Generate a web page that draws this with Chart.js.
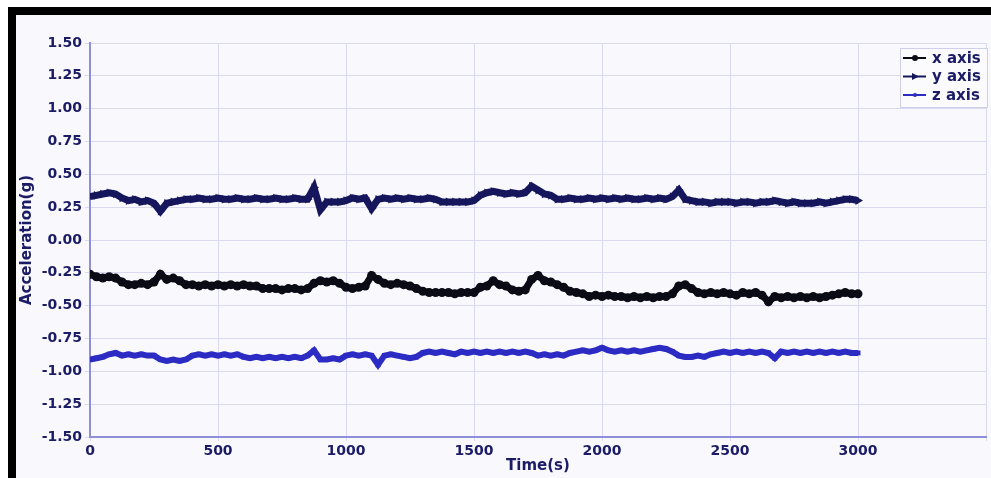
<!DOCTYPE html>
<html>
<head>
<meta charset="utf-8">
<script src="https://cdn.jsdelivr.net/npm/chart.js@4.4.1/dist/chart.umd.min.js"></script>
<style>
    html, body { margin: 0; padding: 0; background: #ffffff; overflow: hidden; }
    #frame {
        position: absolute; left: 8px; top: 7px; width: 1000px; height: 500px;
        border-left: 8px solid #000; border-top: 8px solid #000;
        background: #f8f8fd;
    }
    #chart { position: absolute; left: 0; top: 0; }
</style>
</head>
<body>
<div id="frame"></div>
<canvas id="chart" width="991" height="478"></canvas>
<script>
// Sample times (s)
const times = [
    0, 25, 50, 75, 100, 125, 150, 175, 200, 225, 250, 275, 300, 325, 350, 375, 400, 425, 450, 475,
    500, 525, 550, 575, 600, 625, 650, 675, 700, 725, 750, 775, 800, 825, 850, 875, 900, 925, 950, 975,
    1000, 1025, 1050, 1075, 1100, 1125, 1150, 1175, 1200, 1225, 1250, 1275, 1300, 1325, 1350, 1375, 1400, 1425, 1450, 1475,
    1500, 1525, 1550, 1575, 1600, 1625, 1650, 1675, 1700, 1725, 1750, 1775, 1800, 1825, 1850, 1875, 1900, 1925, 1950, 1975,
    2000, 2025, 2050, 2075, 2100, 2125, 2150, 2175, 2200, 2225, 2250, 2275, 2300, 2325, 2350, 2375, 2400, 2425, 2450, 2475,
    2500, 2525, 2550, 2575, 2600, 2625, 2650, 2675, 2700, 2725, 2750, 2775, 2800, 2825, 2850, 2875, 2900, 2925, 2950, 2975,
    3000
];

// Acceleration (g) per axis
const xAxisValues = [
    -0.26, -0.28, -0.29, -0.28, -0.29, -0.32, -0.34, -0.34, -0.33, -0.34, -0.32, -0.26, -0.30, -0.29, -0.31, -0.34, -0.34, -0.35, -0.34, -0.35,
    -0.34, -0.35, -0.34, -0.35, -0.34, -0.35, -0.35, -0.37, -0.37, -0.37, -0.38, -0.37, -0.37, -0.38, -0.37, -0.33, -0.31, -0.32, -0.31, -0.33,
    -0.36, -0.37, -0.36, -0.35, -0.27, -0.30, -0.33, -0.34, -0.33, -0.34, -0.35, -0.37, -0.39, -0.40, -0.40, -0.40, -0.40, -0.41, -0.40, -0.40,
    -0.40, -0.36, -0.35, -0.31, -0.34, -0.35, -0.38, -0.39, -0.38, -0.30, -0.27, -0.31, -0.32, -0.34, -0.36, -0.39, -0.40, -0.41, -0.43, -0.42,
    -0.43, -0.42, -0.43, -0.43, -0.44, -0.43, -0.44, -0.43, -0.44, -0.43, -0.43, -0.41, -0.35, -0.34, -0.37, -0.40, -0.41, -0.40, -0.41, -0.40,
    -0.41, -0.42, -0.40, -0.41, -0.40, -0.42, -0.47, -0.43, -0.44, -0.43, -0.44, -0.43, -0.44, -0.43, -0.44, -0.43, -0.42, -0.41, -0.40, -0.41,
    -0.41
];
const yAxisValues = [
    0.33, 0.34, 0.35, 0.36, 0.35, 0.32, 0.30, 0.31, 0.29, 0.30, 0.28, 0.22, 0.28, 0.29, 0.30, 0.31, 0.31, 0.32, 0.31, 0.31,
    0.32, 0.31, 0.31, 0.32, 0.31, 0.31, 0.32, 0.31, 0.31, 0.32, 0.31, 0.31, 0.32, 0.31, 0.31, 0.40, 0.23, 0.29, 0.29, 0.29,
    0.30, 0.32, 0.31, 0.32, 0.24, 0.31, 0.32, 0.31, 0.32, 0.31, 0.32, 0.31, 0.31, 0.32, 0.31, 0.29, 0.29, 0.29, 0.29, 0.29,
    0.30, 0.34, 0.36, 0.37, 0.36, 0.35, 0.36, 0.35, 0.36, 0.41, 0.38, 0.35, 0.34, 0.31, 0.31, 0.32, 0.31, 0.31, 0.32, 0.31,
    0.32, 0.31, 0.32, 0.31, 0.32, 0.31, 0.31, 0.32, 0.31, 0.32, 0.31, 0.33, 0.38, 0.31, 0.30, 0.29, 0.29, 0.28, 0.29, 0.29,
    0.29, 0.28, 0.29, 0.29, 0.28, 0.29, 0.29, 0.30, 0.29, 0.28, 0.29, 0.28, 0.28, 0.28, 0.29, 0.28, 0.29, 0.30, 0.31, 0.31,
    0.30
];
const zAxisValues = [
    -0.91, -0.90, -0.89, -0.87, -0.86, -0.88, -0.87, -0.88, -0.87, -0.88, -0.88, -0.91, -0.92, -0.91, -0.92, -0.91, -0.88, -0.87, -0.88, -0.87,
    -0.88, -0.87, -0.88, -0.87, -0.89, -0.90, -0.89, -0.90, -0.89, -0.90, -0.89, -0.90, -0.89, -0.90, -0.88, -0.84, -0.91, -0.91, -0.90, -0.91,
    -0.88, -0.87, -0.88, -0.87, -0.88, -0.95, -0.88, -0.87, -0.88, -0.89, -0.90, -0.89, -0.86, -0.85, -0.86, -0.85, -0.86, -0.87, -0.85, -0.86,
    -0.85, -0.86, -0.85, -0.86, -0.85, -0.86, -0.85, -0.86, -0.85, -0.86, -0.88, -0.87, -0.88, -0.87, -0.88, -0.86, -0.85, -0.84, -0.85, -0.84,
    -0.82, -0.84, -0.85, -0.84, -0.85, -0.84, -0.85, -0.84, -0.83, -0.82, -0.83, -0.85, -0.88, -0.89, -0.89, -0.88, -0.89, -0.87, -0.86, -0.85,
    -0.86, -0.85, -0.86, -0.85, -0.86, -0.85, -0.86, -0.90, -0.85, -0.86, -0.85, -0.86, -0.85, -0.86, -0.85, -0.86, -0.85, -0.86, -0.85, -0.86,
    -0.86
];

const seriesNames = ["x axis", "y axis", "z axis"];
const seriesColors = ["#0b0b16", "#16165c", "#2c2cc4"];

const textColor = "#1b1b66";
const fontFamily = "'DejaVu Sans', Verdana, sans-serif";

function toPoints(values) {
    return values.map((v, i) => ({ x: times[i], y: v }));
}

// Legend box drawn in the upper right of the plot
const legendBox = {
    id: "legendBox",
    afterDraw(chart) {
        const ctx = chart.ctx;
        const left = 900, top = 48, w = 87, h = 59;
        ctx.save();
        ctx.fillStyle = "#fbfbfe";
        ctx.fillRect(left, top, w, h);
        ctx.strokeStyle = "#cfcfea";
        ctx.lineWidth = 1;
        ctx.strokeRect(left + 0.5, top + 0.5, w, h);
        ctx.font = "bold 15px " + fontFamily;
        ctx.textBaseline = "middle";
        chart.data.datasets.forEach((ds, i) => {
            const y = top + 10 + i * 18.5;
            ctx.strokeStyle = ds.borderColor;
            ctx.lineWidth = 2;
            ctx.beginPath();
            ctx.moveTo(903, y);
            ctx.lineTo(926, y);
            ctx.stroke();
            ctx.fillStyle = ds.borderColor;
            ctx.beginPath();
            if (i === 0) {
                ctx.arc(915, y, 3, 0, Math.PI * 2);
            } else if (i === 1) {
                ctx.moveTo(919, y);
                ctx.lineTo(912, y - 3.5);
                ctx.lineTo(912, y + 3.5);
                ctx.closePath();
            } else {
                ctx.arc(915, y, 2, 0, Math.PI * 2);
            }
            ctx.fill();
            ctx.fillStyle = textColor;
            ctx.fillText(ds.label, 932, y + 1);
        });
        ctx.restore();
    }
};

const ctx = document.getElementById("chart").getContext("2d");
new Chart(ctx, {
    type: "line",
    data: {
        datasets: [
            {
                label: seriesNames[0],
                data: toPoints(xAxisValues),
                borderColor: seriesColors[0],
                backgroundColor: seriesColors[0],
                borderWidth: 7,
                pointStyle: "circle",
                pointRadius: 4.5,
                pointBorderWidth: 0,
                tension: 0
            },
            {
                label: seriesNames[1],
                data: toPoints(yAxisValues),
                borderColor: seriesColors[1],
                backgroundColor: seriesColors[1],
                borderWidth: 7,
                pointStyle: "triangle",
                rotation: 90,
                pointRadius: 5,
                pointBorderWidth: 0,
                tension: 0
            },
            {
                label: seriesNames[2],
                data: toPoints(zAxisValues),
                borderColor: seriesColors[2],
                backgroundColor: seriesColors[2],
                borderWidth: 6,
                pointStyle: "rect",
                pointRadius: 3.5,
                pointBorderWidth: 0,
                tension: 0
            }
        ]
    },
    options: {
        responsive: false,
        animation: false,
        layout: { padding: { top: 43, right: 0, bottom: 0, left: 0 } },
        plugins: {
            legend: { display: false },
            tooltip: { enabled: false }
        },
        scales: {
            x: {
                type: "linear",
                min: 0,
                max: 3500,
                afterFit: scale => { scale.height = 41; },
                border: { color: "#8f8fd9", width: 2 },
                grid: { color: "#d9d9f0", lineWidth: 1, tickLength: 4 },
                ticks: {
                    stepSize: 500,
                    padding: 2,
                    color: textColor,
                    font: { family: fontFamily, size: 14, weight: "bold" },
                    maxRotation: 0,
                    callback: v => (v <= 3000 ? v : "")
                },
                title: {
                    display: true,
                    text: "Time(s)",
                    color: textColor,
                    font: { family: fontFamily, size: 15, weight: "bold" },
                    padding: { top: 0, bottom: 3 }
                }
            },
            y: {
                min: -1.5,
                max: 1.5,
                afterFit: scale => { scale.width = 90; },
                border: { color: "#8f8fd9", width: 2 },
                grid: { color: "#d9d9f0", lineWidth: 1, tickLength: 5 },
                ticks: {
                    stepSize: 0.25,
                    padding: 3,
                    color: textColor,
                    font: { family: fontFamily, size: 14, weight: "bold" },
                    callback: v => v.toFixed(2)
                },
                title: {
                    display: true,
                    text: "Acceleration(g)",
                    color: textColor,
                    font: { family: fontFamily, size: 15, weight: "bold" },
                    padding: { top: 18, bottom: 0 }
                }
            }
        }
    },
    plugins: [legendBox]
});
</script>
</body>
</html>
